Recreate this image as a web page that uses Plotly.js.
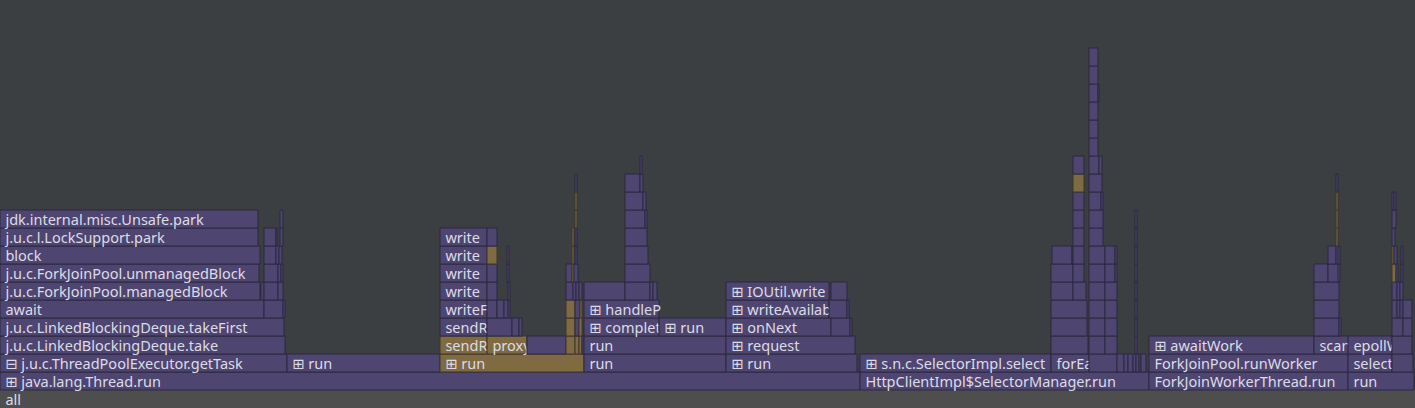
<!DOCTYPE html>
<html><head><meta charset="utf-8">
<script src="https://cdn.plot.ly/plotly-3.0.1.min.js"></script>
<style>html,body{margin:0;padding:0;background:#3c3f41;}#chart{width:1415px;height:408px;}</style>
</head><body><div id="chart"></div>
<script>
// Flame graph frames: label, stack depth, start sample, end sample, kind (p = purple, t = tan, g = root)
const frameLabel = [
"all",
"⊞ java.lang.Thread.run","HttpClientImpl$SelectorManager.run","ForkJoinWorkerThread.run","run",
"⊟ j.u.c.ThreadPoolExecutor.getTask","⊞ run","⊞ run","run","⊞ run","⊞ s.n.c.SelectorImpl.select","forEa","","","","","","","","","ForkJoinPool.runWorker","select","",
"j.u.c.LinkedBlockingDeque.take","sendR","proxy","","","","","","run","⊞ request","","","","","⊞ awaitWork","scan","epollW","",
"j.u.c.LinkedBlockingDeque.takeFirst","sendR","","","","","","","⊞ complet","⊞ run","⊞ onNext","","","","","","","","","","",
"await","","","writeF","","","","","","","","⊞ handleP","⊞ writeAvailab","","","","","","","","","","","",
"j.u.c.ForkJoinPool.managedBlock","","","","write","","","","","","","","","","","⊞ IOUtil.write","","","","","","","","","","",
"j.u.c.ForkJoinPool.unmanagedBlock","","","","write","","","","","","","","","","","","","","","","","","",
"block","","","","write","","","","","","","","","","","","","","","","","","",
"j.u.c.l.LockSupport.park","","","","write","","","","","","","","","",
"jdk.internal.misc.Unsafe.park","","","","","","","","","",
"","","","","","","","","",
"","","","","","",
"","","","",
"","","","","","",""
];
const frameDepth = [
0,
1,1,1,1,
2,2,2,2,2,2,2,2,2,2,2,2,2,2,2,2,2,2,
3,3,3,3,3,3,3,3,3,3,3,3,3,3,3,3,3,3,
4,4,4,4,4,4,4,4,4,4,4,4,4,4,4,4,4,4,4,4,4,
5,5,5,5,5,5,5,5,5,5,5,5,5,5,5,5,5,5,5,5,5,5,5,5,
6,6,6,6,6,6,6,6,6,6,6,6,6,6,6,6,6,6,6,6,6,6,6,6,6,6,
7,7,7,7,7,7,7,7,7,7,7,7,7,7,7,7,7,7,7,7,7,7,7,
8,8,8,8,8,8,8,8,8,8,8,8,8,8,8,8,8,8,8,8,8,8,8,
9,9,9,9,9,9,9,9,9,9,9,9,9,9,
10,10,10,10,10,10,10,10,10,10,
11,11,11,11,11,11,11,11,11,
12,12,12,12,12,12,
13,13,13,13,
14,15,16,17,17,18,19
];
const frameStart = [
0,
0,860,1149,1348,
0,287,440,584,726,860,1051,1089,1117,1124,1128,1133,1136,1139,1141,1149,1348,1392,
0,440,487,527,566,575,579,582,584,726,1051,1089,1105,1135,1149,1314,1348,1392,
0,440,487,512,519,566,575,579,584,659,726,831,850,1051,1089,1105,1135,1314,1339,1392,1403,
0,264,283,440,487,497,504,508,566,575,580,584,726,829,847,1051,1089,1105,1135,1314,1392,1397,1400,1403,
0,261,264,278,440,487,508,566,573,576,579,584,625,650,653,726,831,1051,1073,1089,1105,1135,1314,1392,1397,1400,
0,264,278,281,440,487,507,566,572,574,625,1051,1073,1089,1105,1115,1135,1314,1328,1392,1396,1401,1338,
0,264,276,279,440,487,507,572,575,625,1052,1072,1073,1089,1105,1115,1135,1328,1336,1392,1394,1401,1338,
0,264,276,280,440,487,572,575,625,1073,1089,1135,1336,1392,
0,280,575,625,645,1073,1089,1135,1336,1392,
575,625,643,1073,1089,1101,1336,1392,1394,
575,625,640,1073,1089,1336,
640,1073,1089,1099,
1089,1089,1089,1089,1098,1089,1089
];
const frameEnd = [
1415,
860,1149,1348,1414,
287,440,584,726,857,1051,1089,1117,1124,1128,1133,1136,1139,1141,1146,1348,1392,1413,
285,487,527,566,575,579,582,584,726,855,1088,1105,1117,1137,1314,1348,1392,1412,
284,487,512,519,522,575,579,582,659,726,831,850,852,1087,1105,1117,1137,1339,1341,1403,1412,
264,283,285,487,497,504,508,510,575,580,582,659,829,847,849,1087,1105,1117,1137,1339,1397,1400,1403,1412,
260,264,278,283,487,497,510,573,576,579,582,625,650,653,657,829,847,1073,1086,1105,1117,1137,1339,1397,1400,1403,
259,278,281,283,487,497,509,572,574,578,650,1073,1084,1105,1115,1117,1137,1328,1339,1396,1398,1403,1340,
260,276,279,282,487,497,509,574,577,648,1072,1073,1084,1105,1115,1117,1137,1336,1339,1394,1397,1403,1340,
258,276,277,283,487,497,574,577,647,1084,1103,1137,1338,1395,
258,283,577,645,647,1084,1103,1137,1338,1396,
577,643,646,1084,1101,1103,1338,1394,1396,
577,640,643,1084,1102,1338,
642,1084,1099,1102,
1098,1098,1098,1098,1099,1098,1098
];
const frameKind = [
"g",
"p","p","p","p",
"p","p","t","p","p","p","p","p","p","p","p","p","p","p","p","p","p","p",
"p","t","t","p","t","t","t","p","p","p","p","p","p","p","p","p","p","p",
"p","p","p","p","p","t","p","t","p","p","p","p","p","p","p","p","p","p","p","p","p",
"p","p","p","p","p","p","p","p","t","p","t","p","p","p","p","p","p","p","p","p","p","p","p","p",
"p","p","p","p","p","p","p","p","p","p","p","p","p","p","p","p","p","p","p","p","p","p","p","p","p","p",
"p","p","p","p","p","p","p","p","t","p","p","p","p","p","p","p","p","p","p","t","p","p","p",
"p","p","p","p","p","t","p","t","p","p","p","p","p","p","p","p","p","p","p","t","p","p","p",
"p","p","p","p","p","p","t","p","p","p","p","p","t","p",
"p","p","t","p","p","p","p","p","t","p",
"t","p","p","p","p","p","t","p","p",
"p","p","p","t","p","p",
"p","p","p","p",
"p","p","p","p","p","p","p"
];

const kindFill = {p: "#4f4571", t: "#7f6a42", g: "#4e4e4e"};
const kindLine = {p: "#2b2840", t: "#3e3628", g: "#4e4e4e"};

const trace = {
  type: "bar",
  orientation: "h",
  y: frameDepth,
  base: frameStart,
  x: frameEnd.map((e, i) => e - frameStart[i]),
  text: frameLabel.map(s => s ? "\u2009" + s : s),
  textposition: "inside",
  insidetextanchor: "start",
  textangle: 0,
  constraintext: "none",
  cliponaxis: true,
  textfont: {family: "Noto Sans, DejaVu Sans, sans-serif", size: 14.5, color: "#dcdce6"},
  marker: {
    color: frameKind.map(k => kindFill[k]),
    line: {color: frameKind.map(k => kindLine[k]), width: 1}
  },
  hoverinfo: "none",
  width: 1
};

const layout = {
  width: 1415, height: 408,
  margin: {l: 0, r: 0, t: 0, b: 0},
  paper_bgcolor: "#3c3f41",
  plot_bgcolor: "#3c3f41",
  bargap: 0,
  showlegend: false,
  xaxis: {range: [0, 1415], visible: false, fixedrange: true},
  yaxis: {range: [-0.5, -0.5 + 408 / 18], visible: false, fixedrange: true}
};

Plotly.newPlot("chart", [trace], layout, {displayModeBar: false, staticPlot: true});
</script>
</body></html>
